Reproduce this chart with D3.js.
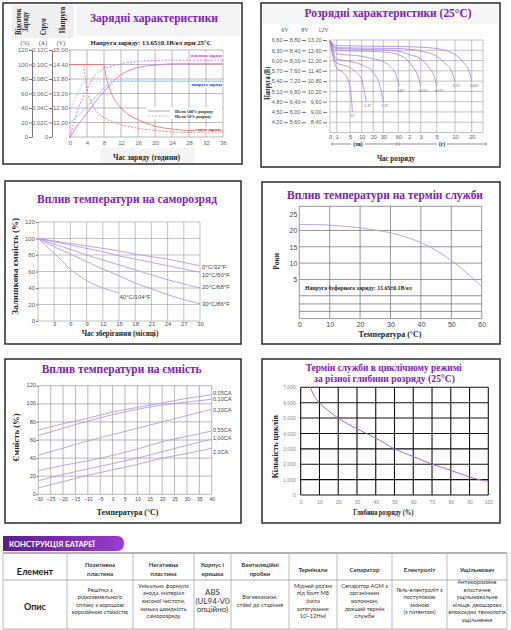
<!DOCTYPE html>
<html lang="uk">
<head>
<meta charset="UTF-8">
<title>Гелева батарея - характеристики</title>
<style>
  body { margin: 0; background: #fff; }
</style>
</head>
<body>
<script src="https://d3js.org/d3.v7.min.js"></script>
<script>
// ---- зарядні характеристики (шкала 0..120 спільна для %, струму і напруги) ----
var chargeHours = [0, 4, 8, 12, 16, 20, 24, 28, 32, 36];
var pctTicks = [0, 20, 40, 60, 80, 100, 120];
var ampLabels = ["0", "0,02C", "0,04C", "0,06C", "0,08C", "0,10C", "0,12C"];
var voltLabels = ["", "12,00", "12,60", "13,20", "13,80", "14,40", "15,00"];
var chargedFull = [[0,0],[1,9],[2,18],[4,33],[6,49],[8,63],[10,76],[12,86],[14,92],[16,96],[20,99],[24,101],[36,101]];
var chargedHalf = [[0,0],[1,22],[2,40],[4,66],[6,86],[8,94],[10,98],[13,102],[18,105],[24,106],[36,106]];
var voltFull = [[0,20],[2,30],[4,42],[6,55],[8,68],[9,74],[9.6,77],[36,77]];
var voltHalf = [[0,40],[1,50],[2,62],[3,74],[3.4,77],[36,77]];
var currFull = [[0,100],[8,100],[8.4,86],[9,72],[10,57],[11,47],[12,40],[14,30],[16,24],[18,19],[20,15],[24,11],[28,9],[36,8]];
var currHalf = [[0,100],[3.2,100],[3.5,86],[4,66],[5,48],[6,37],[8,27],[10,21],[12,17],[16,12],[20,9],[24,7],[36,6]];

// ---- розрядні характеристики (хвилини, В для 12V) ----
var dischTickMin = [0, 1, 5, 10, 20, 30, 60, 120, 180, 300, 600, 1200];
var dischTickLabels = ["0", "1", "5", "10", "20", "30", "60", "2", "3", "5", "10", "20"];
var v6Ticks = [6.6, 6.3, 6.0, 5.7, 5.4, 5.1, 4.8, 4.5, 4.2];
var v8Ticks = [8.8, 8.4, 8.0, 7.6, 7.2, 6.8, 6.4, 6.0, 5.6];
var v12Ticks = [13.2, 12.6, 12.0, 11.4, 10.8, 10.2, 9.6, 9.0, 8.4, 7.8];
var rateNames = ["3C", "2.1C", "1.3C", "0.6C", "0.25C", "0.17C", "0.1C", "0.05C"];
var dischCurves = [
  [[0,13.15],[1,11.55],[3,11.3],[4.5,10.8],[5.5,10.0],[6,9.0]],
  [[0,13.15],[1,11.85],[5,11.6],[8,11.25],[10,10.9],[12,10.3],[14,9.6]],
  [[0,13.15],[1,12.1],[5,11.95],[10,11.75],[20,11.3],[25,10.8],[28,10.2],[30,9.6]],
  [[0,13.15],[1,12.4],[10,12.25],[20,12.1],[30,11.95],[45,11.6],[55,11.2],[65,10.5]],
  [[0,13.15],[1,12.6],[30,12.5],[60,12.35],[100,12.1],[140,11.6],[165,11.1],[180,10.5]],
  [[0,13.15],[1,12.7],[30,12.62],[60,12.55],[120,12.35],[180,12.1],[240,11.6],[280,11.1],[300,10.5]],
  [[0,13.15],[1,12.75],[60,12.7],[180,12.55],[300,12.25],[420,11.9],[540,11.4],[600,10.8]],
  [[0,13.15],[1,12.87],[60,12.82],[180,12.78],[300,12.7],[600,12.35],[900,11.9],[1100,11.4],[1200,10.8]]
];

// ---- саморозряд ----
var storeMonths = [0, 3, 6, 9, 12, 15, 18, 21, 24, 27, 30];
var selfTicks = [0, 20, 40, 60, 80, 100, 120];
var selfNames = ["0°C/32°F", "10°C/50°F", "20°C/68°F", "30°C/86°F", "40°C/104°F"];
var selfCurves = [
  [[0,100],[3,97],[6,94],[9,91],[12,88],[15,85],[18,81],[21,78],[24,75],[27,71],[30,67]],
  [[0,100],[3,96],[6,92],[9,88],[12,84],[15,79],[18,75],[21,71],[24,67],[27,63],[30,59]],
  [[0,100],[3,93],[6,87],[9,80],[12,74],[15,68],[18,62],[21,56],[24,50],[27,45],[30,40]],
  [[0,100],[3,90],[6,81],[9,72],[12,63],[15,55],[18,46],[21,39],[24,32],[27,26],[30,21]],
  [[0,100],[3,82],[6,63],[9,49],[12,40],[15,34]]
];

// ---- термін служби від температури ----
var lifeTemps = [0, 10, 20, 30, 40, 50, 60];
var yearTicks = [5, 10, 15, 20, 25];
var floatLife = [[0,21.8],[5,21.8],[10,21.6],[15,21.3],[20,20.8],[25,20.1],[30,19.3],[35,18],[40,16.3],[45,13.9],[50,10.8],[55,7.1],[60,2.8]];

// ---- ємність від температури ----
var capTemps = [-30, -25, -20, -15, -10, -5, 0, 5, 10, 15, 20, 25, 30, 35, 40];
var capTicks = [0, 20, 40, 60, 80, 100, 120];
var capNames = ["0,05CA", "0,10CA", "0,20CA", "0,55CA", "1,00CA", "2,0CA"];
var capCurves = [
  [[-30,71],[-20,78],[-10,84],[0,91],[10,96],[20,101],[30,106],[40,110]],
  [[-30,65],[-20,73],[-10,81],[0,88],[10,94],[20,98.6],[30,102],[40,105]],
  [[-30,43],[-20,51],[-10,59],[0,66],[10,73],[20,80],[30,87],[40,94]],
  [[-30,26],[-20,32],[-10,37],[0,43],[10,50],[20,58],[30,64],[40,70]],
  [[-30,15],[-20,22],[-10,28],[0,34],[10,40],[20,47],[30,54],[40,61]],
  [[-30,7],[-20,14],[-10,21],[0,27],[10,33],[20,40],[30,45],[40,51]]
];

// ---- циклічний режим ----
var dodTicks = [0, 10, 20, 30, 40, 50, 60, 70, 80, 90, 100];
var cycleTicks = [0, 1000, 2000, 3000, 4000, 5000, 6000, 7000];
var cycleLife = [[5,7000],[7,6500],[10,6000],[15,5450],[20,5000],[30,4300],[40,3700],[50,3000],[60,2500],[70,2000],[80,1600],[90,1180],[95,1000],[100,900]];

// ---- таблиця ----
var tableHead = [["Елемент"], ["Позитивна", "пластина"], ["Негативна", "пластина"], ["Корпус і", "кришка"],
  ["Вентиляційні", "пробки"], ["Термінали"], ["Сепаратор"], ["Електроліт"], ["Ущільнювач"]];
var tableBody = [["Опис"],
  ["Решітка з", "рідкоземельного", "сплаву з хорошою", "корозійною стійкістю"],
  ["Унікальна формула", "анода, матеріал", "високої чистоти,", "низька швидкість", "саморозряду"],
  ["ABS", "(UL94-V0", "опційно)"],
  ["Вогнезахисні,", "стійкі до старіння"],
  ["Мідний роз'єм", "під болт M8", "(сила", "затягування:", "10~12Нм)"],
  ["Сепаратор AGM з", "органічним", "волокном,", "довший термін", "служби"],
  ["Гель-електроліт з", "поступовою", "зміною", "(з патентом)"],
  ["Антикорозійне", "еластичне", "ущільнювальне", "кільце, двошарова", "епоксидна технологія", "ущільнення"]];

var SERIF = "'Liberation Serif','Times New Roman',serif";
var SANS = "'Liberation Sans',Arial,sans-serif";
var PURPLE = "#7d22b8";
var LAV = "#b49ae8";

var svg = d3.select("body").append("svg").attr("width", 511).attr("height", 630);

function frame(x, y, w, h) {
  svg.append("rect").attr("x", x).attr("y", y).attr("width", w).attr("height", h)
    .attr("fill", "#fff").attr("stroke", "#2b2b2b").attr("stroke-width", 1.5);
}
function box(x, y, w, h, fill) {
  svg.append("rect").attr("x", x).attr("y", y).attr("width", w).attr("height", h).attr("fill", fill);
}
function label(x, y, s, size, o) {
  o = o || {};
  var t = svg.append("text").attr("x", x).attr("y", y).text(s)
    .attr("font-size", size)
    .attr("font-family", o.family || SANS)
    .attr("font-weight", o.weight || "normal")
    .attr("fill", o.fill || "#222")
    .attr("text-anchor", o.anchor || "start");
  if (o.rotate) t.attr("transform", "rotate(-90," + x + "," + y + ")");
  if (o.len) t.attr("textLength", o.len).attr("lengthAdjust", "spacingAndGlyphs");
  return t;
}
function seg(xa, ya, xb, yb, col, w, dash) {
  svg.append("line").attr("x1", xa).attr("y1", ya).attr("x2", xb).attr("y2", yb)
    .attr("stroke", col).attr("stroke-width", w).attr("stroke-dasharray", dash || null);
}
function grid(xs, ys, sx, sy, col, w) {
  var xr = sx.range(), yr = sy.range();
  var x0 = d3.min(xr), x1 = d3.max(xr), y0 = d3.min(yr), y1 = d3.max(yr);
  xs.forEach(function (v) { seg(sx(v), y0, sx(v), y1, col, w); });
  ys.forEach(function (v) { seg(x0, sy(v), x1, sy(v), col, w); });
}
function tidy(g, size, col) {
  g.attr("font-family", SANS).attr("font-size", size);
  g.selectAll("text").attr("fill", col);
  g.selectAll("line").attr("stroke", "#777");
  g.select(".domain").attr("stroke", "#777");
}
function curve(data, sx, sy, col, w, dash) {
  svg.append("path").datum(data)
    .attr("d", d3.line().x(function (d) { return sx(d[0]); }).y(function (d) { return sy(d[1]); }).curve(d3.curveMonotoneX))
    .attr("fill", "none").attr("stroke", col).attr("stroke-width", w).attr("stroke-dasharray", dash || null);
}
var serifB = function (o) { o.family = SERIF; o.weight = "bold"; return o; };

// ================= 1. Зарядні характеристики =================
frame(3, 3, 239, 161);
box(12, 5, 62, 33, "#efefef");
box(76, 5, 164, 31, "#f4f4f4");
label(154, 22, "Зарядні характеристики", 12.5, serifB({fill: PURPLE, anchor: "middle", len: 128}));
label(151, 45, "Напруга заряду: 13.65±0.1В/ел при 25°C", 6.5, serifB({anchor: "middle", len: 121}));
label(21.5, 21.7, "Відсоток", 7.5, serifB({anchor: "middle", rotate: true, len: 26.7}));
label(28.2, 21.7, "Заряду", 7.5, serifB({anchor: "middle", rotate: true, len: 20}));
label(46.5, 26.7, "Струм", 7.5, serifB({anchor: "middle", rotate: true, len: 16.7}));
label(65, 20, "Напруга", 7.5, serifB({anchor: "middle", rotate: true, len: 26.7}));
label(25, 44.5, "(%)", 6, {family: SERIF, fill: "#555", anchor: "middle"});
label(43, 44.5, "(A)", 6, {family: SERIF, fill: "#555", anchor: "middle"});
label(61, 44.5, "(V)", 6, {family: SERIF, fill: "#555", anchor: "middle"});

var x1 = d3.scaleLinear().domain([0, 36]).range([70, 223]);
var y1 = d3.scaleLinear().domain([0, 120]).range([137, 50]);
grid(chargeHours, pctTicks, x1, y1, "#8c8c8c", 0.6);

var aP = svg.append("g").attr("transform", "translate(32,0)")
  .call(d3.axisLeft(y1).tickValues(pctTicks).tickSize(3).tickSizeOuter(0).tickPadding(1));
tidy(aP, 6, "#666");
var aA = svg.append("g").attr("transform", "translate(52,0)")
  .call(d3.axisLeft(y1).tickValues(pctTicks).tickFormat(function (d, i) { return ampLabels[i]; })
    .tickSize(3).tickSizeOuter(0).tickPadding(1));
tidy(aA, 6, "#666");
var aV = svg.append("g").attr("transform", "translate(70,0)")
  .call(d3.axisLeft(y1).tickValues(pctTicks).tickFormat(function (d, i) { return voltLabels[i]; })
    .tickSize(1).tickSizeOuter(0).tickPadding(1));
aV.select(".domain").remove();
tidy(aV, 6, "#666");
var aX1 = svg.append("g").attr("transform", "translate(0,137)")
  .call(d3.axisBottom(x1).tickValues(chargeHours).tickSize(0).tickPadding(4.2));
aX1.select(".domain").remove();
tidy(aX1, 6, "#666");

curve(currFull, x1, y1, "#f07272", 0.9);
curve(currHalf, x1, y1, "#f07272", 0.9, "2,1.5");
curve(chargedFull, x1, y1, "#e86ae8", 0.9);
curve(chargedHalf, x1, y1, "#e86ae8", 0.9, "2,1.5");
curve(voltFull, x1, y1, "#88d2f0", 0.9);
curve(voltHalf, x1, y1, "#88d2f0", 0.9, "2,1.5");

box(192, 52, 31, 6, "#fff");
label(222.5, 56.5, "відсоток заряду", 4.5, serifB({fill: "#e020e0", anchor: "end"}));
box(192, 82, 31, 6, "#fff");
label(222.5, 86, "напруга заряду", 4.5, serifB({fill: "#2a3cd0", anchor: "end"}));
box(194, 126.5, 28, 6, "#fff");
label(221.5, 130.5, "струм заряду", 4.5, serifB({fill: "#e02020", anchor: "end"}));
box(146, 107, 76, 12, "#fff");
seg(148, 111, 170, 111, "#777", 0.6);
seg(148, 116, 170, 116, "#999", 0.6, "2,1.5");
label(175, 112.6, "Після 100% розряду", 4.5, serifB({len: 38}));
label(175, 117.6, "Після 50% розряду", 4.5, serifB({len: 36}));
box(100, 148, 95, 15, "#f4f4f4");
label(146.5, 160, "Час заряду (години)", 8.5, serifB({anchor: "middle", len: 67}));

// ================= 2. Розрядні характеристики =================
frame(261, 3, 239, 164);
box(263, 5, 235, 19, "#f6f6f6");
label(388, 16.5, "Розрядні характеристики (25°C)", 12, serifB({fill: PURPLE, anchor: "middle", len: 167}));
label(285, 31.5, "6V", 6, {family: SERIF, fill: "#555", anchor: "middle"});
label(305, 31.5, "8V", 6, {family: SERIF, fill: "#555", anchor: "middle"});
label(323.5, 31.5, "12V", 6, {family: SERIF, fill: "#555", anchor: "middle"});

var x2 = d3.scaleLinear().domain(dischTickMin)
  .range([330, 336.7, 350, 361.7, 373.3, 383.3, 398.3, 409.3, 420.7, 436.7, 455, 471.7]);
var y2 = d3.scaleLinear().domain([7.8, 13.2]).range([132.5, 40]);
var y6 = d3.scaleLinear().domain([3.9, 6.6]).range([132.5, 40]);
var y8 = d3.scaleLinear().domain([5.2, 8.8]).range([132.5, 40]);
dischTickMin.forEach(function (v) { seg(x2(v), 40, x2(v), 132.5, "#9a9a9a", 0.6); });
seg(483, 40, 483, 132.5, "#9a9a9a", 0.6);
v12Ticks.forEach(function (v) { seg(330, y2(v), 483, y2(v), "#9a9a9a", 0.6); });

var comma2 = function (d) { return d.toFixed(2).replace(".", ","); };
[[288, y6, v6Ticks], [306, y8, v8Ticks], [327, y2, v12Ticks.slice(0, 9)]].forEach(function (a) {
  var g = svg.append("g").attr("transform", "translate(" + a[0] + ",0)")
    .call(d3.axisLeft(a[1]).tickValues(a[2]).tickFormat(comma2).tickSize(4).tickPadding(1.5));
  g.select(".domain").remove();
  tidy(g, 5.5, "#555");
});
var aX2 = svg.append("g").attr("transform", "translate(0,132.5)")
  .call(d3.axisBottom(x2).tickValues(dischTickMin).tickFormat(function (d, i) { return dischTickLabels[i]; })
    .tickSize(0).tickPadding(2.6));
aX2.select(".domain").remove();
tidy(aX2, 5.5, "#555");

dischCurves.forEach(function (c, i) {
  curve(c, x2, y2, "#9a70dd", 0.7);
  var end = c[c.length - 1];
  label(x2(end[0]) - 2, y2(end[1]) + 5.5, rateNames[i], 3.8, {family: SERIF, fill: "#555"});
});

seg(332, 144, 351, 144, "#444", 0.6); seg(365, 144, 397, 144, "#444", 0.6);
seg(399, 144, 437, 144, "#444", 0.6); seg(447, 144, 486, 144, "#444", 0.6);
seg(332, 142.5, 332, 145.5, "#444", 0.6); seg(397, 142.5, 397, 145.5, "#444", 0.6);
seg(399, 142.5, 399, 145.5, "#444", 0.6); seg(486, 142.5, 486, 145.5, "#444", 0.6);
label(358, 146, "(хв)", 5.5, serifB({anchor: "middle"}));
label(442, 146, "(г)", 5.5, serifB({anchor: "middle"}));
label(396, 161, "Час розряду", 8.5, serifB({anchor: "middle", len: 38}));
label(270, 83.3, "Напруга (В)", 7.5, serifB({anchor: "middle", rotate: true, len: 33}));

// ================= 3. Саморозряд =================
frame(5, 181, 236, 163);
label(127, 203, "Вплив температури на саморозряд", 12, serifB({fill: PURPLE, anchor: "middle", len: 180}));
var x3 = d3.scaleLinear().domain([0, 30]).range([38, 200]);
var y3 = d3.scaleLinear().domain([0, 120]).range([321, 222]);
grid(storeMonths, selfTicks, x3, y3, "#9a9a9a", 0.6);
var aY3 = svg.append("g").attr("transform", "translate(38,0)")
  .call(d3.axisLeft(y3).tickValues(selfTicks).tickSize(2).tickPadding(1));
aY3.select(".domain").remove();
tidy(aY3, 6, "#555");
var aX3 = svg.append("g").attr("transform", "translate(0,321)")
  .call(d3.axisBottom(x3).tickValues(storeMonths.slice(1)).tickSize(0).tickPadding(1));
aX3.select(".domain").remove();
tidy(aX3, 6, "#555");
selfCurves.forEach(function (c) { curve(c, x3, y3, LAV, 0.9); });
[268.5, 276.5, 289, 306].forEach(function (yy, i) { label(202, yy, selfNames[i], 6, {fill: "#444"}); });
label(119.5, 299, selfNames[4], 6, {fill: "#444"});
label(18, 266.3, "Залишкова ємність (%)", 9, serifB({anchor: "middle", rotate: true, len: 96.7}));
label(120, 336, "Час зберігання (місяці)", 8.5, serifB({anchor: "middle", len: 76.7}));

// ================= 4. Термін служби від температури =================
frame(262, 182, 238, 162);
label(385, 199, "Вплив температури на термін служби", 12, serifB({fill: PURPLE, anchor: "middle", len: 196}));
var x4 = d3.scaleLinear().domain([0, 60]).range([299.3, 481.7]);
var y4 = d3.scaleLinear().domain([-7, 27.4]).range([318.6, 206.3]);
grid(lifeTemps, [27.4, 20, 15, 10, 5, 0, -2.5, -4.8, -7], x4, y4, "#6a6a6a", 0.7);
var aY4 = svg.append("g").attr("transform", "translate(299.3,0)")
  .call(d3.axisLeft(y4).tickValues(yearTicks).tickSize(0).tickPadding(2));
aY4.select(".domain").remove();
tidy(aY4, 7, "#444");
var aX4 = svg.append("g").attr("transform", "translate(0,318.6)")
  .call(d3.axisBottom(x4).tickValues(lifeTemps).tickSize(0).tickPadding(3.4));
aX4.select(".domain").remove();
tidy(aX4, 7, "#444");
curve(floatLife, x4, y4, LAV, 0.9);
label(305, 289.5, "Напруга буферного заряду: 13.65±0.1В/ел", 6.5, serifB({len: 106.7}));
label(279, 261.3, "Роки", 8.5, serifB({anchor: "middle", rotate: true, len: 16.7}));
label(390, 337, "Температура (°C)", 9, serifB({anchor: "middle", len: 63}));

// ================= 5. Ємність від температури =================
frame(5, 359, 236, 164);
label(121.7, 373, "Вплив температури на ємність", 12, serifB({fill: PURPLE, anchor: "middle", len: 160}));
var x5 = d3.scaleLinear().domain([-30, 40]).range([38.3, 211.7]);
var y5 = d3.scaleLinear().domain([0, 120]).range([494.3, 385.7]);
grid(capTemps, capTicks, x5, y5, "#8a8a8a", 0.6);
var aY5 = svg.append("g").attr("transform", "translate(38.3,0)")
  .call(d3.axisLeft(y5).tickValues(capTicks).tickSize(2).tickPadding(0.5));
aY5.select(".domain").remove();
tidy(aY5, 5.5, "#444");
aY5.selectAll(".tick text").attr("dy", "0.2em");
var aX5 = svg.append("g").attr("transform", "translate(0,494.3)")
  .call(d3.axisBottom(x5).tickValues(capTemps).tickSize(0).tickPadding(3.6));
aX5.select(".domain").remove();
tidy(aX5, 5, "#444");
capCurves.forEach(function (c) { curve(c, x5, y5, LAV, 0.9); });
[395.3, 401.3, 412, 432, 440.3, 453.7].forEach(function (yy, i) { label(213, yy, capNames[i], 5.5, {fill: "#444"}); });
label(18.5, 437.5, "Ємність (%)", 9, serifB({anchor: "middle", rotate: true, len: 48}));
label(127.5, 515, "Температура (°C)", 9, serifB({anchor: "middle", len: 61.6}));

// ================= 6. Циклічний режим =================
frame(262, 359, 238, 164);
label(383.7, 370.5, "Термін служби в циклічному режимі", 10.5, serifB({fill: PURPLE, anchor: "middle", len: 156}));
label(384.5, 381.5, "за різної глибини розряду (25°C)", 10.5, serifB({fill: PURPLE, anchor: "middle", len: 141}));
var x6 = d3.scaleLinear().domain([0, 100]).range([300.7, 488.3]);
var y6c = d3.scaleLinear().domain([0, 7000]).range([495, 387.3]);
grid(dodTicks, cycleTicks, x6, y6c, "#111", 1.1);
var aY6 = svg.append("g").attr("transform", "translate(300.7,0)")
  .call(d3.axisLeft(y6c).tickValues(cycleTicks).tickSize(0).tickPadding(5));
aY6.select(".domain").remove();
tidy(aY6, 5, "#888");
var aX6 = svg.append("g").attr("transform", "translate(0,495)")
  .call(d3.axisBottom(x6).tickValues(dodTicks).tickSize(0).tickPadding(5.5));
aX6.select(".domain").remove();
tidy(aX6, 5, "#888");
curve(cycleLife, x6, y6c, "#9b6bd6", 1);
label(278.5, 446.7, "Кількість циклів", 8.5, serifB({anchor: "middle", rotate: true, len: 63}));
label(383.3, 515, "Глибина розряду (%)", 9, serifB({anchor: "middle", len: 60}));

// ================= Таблиця =================
var defs = svg.append("defs");
var grad = defs.append("linearGradient").attr("id", "pill");
grad.append("stop").attr("offset", "0%").attr("stop-color", "#5a1c8e");
grad.append("stop").attr("offset", "100%").attr("stop-color", "#9b3ccb");
svg.append("path").attr("d", "M3,536 H117 Q124,536 124,543.5 Q124,551 117,551 H3 Z").attr("fill", "url(#pill)");
label(9, 547, "КОНСТРУКЦІЯ БАТАРЕЇ", 7.5, {family: "Lato,'Open Sans',sans-serif", weight: "bold", fill: "#fff"});

var cols = [3, 67, 133, 194, 231, 289, 337, 392, 447, 507];
var TF = "Lato,'Open Sans',sans-serif";
seg(3, 553, 507, 553, "#555", 0.9);
seg(3, 580, 507, 580, "#999", 0.8);
seg(3, 629, 507, 629, "#999", 0.8);
cols.forEach(function (c) { seg(c, 553, c, 629, "#aaa", 0.8); });
tableHead.forEach(function (lines, i) {
  var cx = (cols[i] + cols[i + 1]) / 2;
  if (i === 0) { label(cx, 575, lines[0], 9, {family: TF, weight: "bold", fill: "#222", anchor: "middle"}); return; }
  var top = 571.5 - (lines.length - 1) * 4.2;
  lines.forEach(function (s, k) {
    label(cx, top + k * 8.4, s, 6, {family: TF, weight: "bold", fill: "#333", anchor: "middle"});
  });
});
tableBody.forEach(function (lines, i) {
  var cx = (cols[i] + cols[i + 1]) / 2;
  if (i === 0) { label(cx, 610, lines[0], 9, {family: TF, weight: "bold", fill: "#222", anchor: "middle"}); return; }
  var big = i === 3, step = big ? 8.8 : 7.6, fs = big ? 8 : 5.7;
  var top = 603 - (lines.length - 1) * step / 2 + (big ? 0.5 : 0);
  lines.forEach(function (s, k) {
    label(cx, top + k * step, s, fs, {family: TF, fill: "#333", anchor: "middle"});
  });
});
</script>
</body>
</html>
